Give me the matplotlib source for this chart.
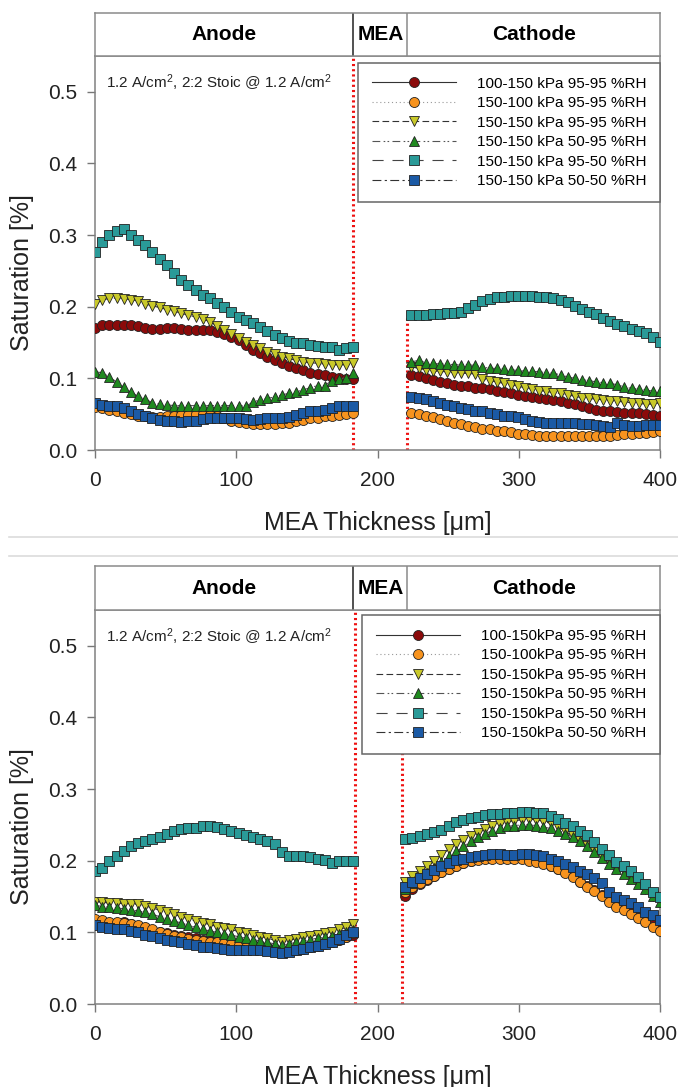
import numpy as np
import matplotlib
matplotlib.use("Agg")
import matplotlib.pyplot as plt

plt.rcParams['font.family'] = ['Liberation Sans', 'DejaVu Sans']
plt.rcParams['mathtext.fontset'] = 'custom'
plt.rcParams['mathtext.rm'] = 'Liberation Sans'
plt.rcParams['mathtext.default'] = 'regular'

# sampling positions (um)
x_anode = np.linspace(0, 183, 37)
x_cath_top = np.linspace(224, 400, 36)
x_cath_bot = np.linspace(219.5, 400, 36)

# ---- top panel, anode side
top_an_red = [0.171,0.174,0.175,0.175,0.175,0.175,0.173,0.171,0.169,0.169,0.170,0.170,0.169,0.168,0.168,0.168,0.167,0.165,0.162,0.158,0.153,0.146,0.140,0.135,0.130,0.125,0.121,0.117,0.114,0.111,0.108,0.106,0.104,0.102,0.100,0.099,0.099]
top_an_orange = [0.060,0.058,0.056,0.054,0.052,0.050,0.048,0.047,0.046,0.046,0.047,0.048,0.049,0.049,0.050,0.050,0.049,0.047,0.044,0.041,0.039,0.037,0.036,0.036,0.036,0.036,0.037,0.038,0.040,0.042,0.044,0.045,0.047,0.048,0.049,0.050,0.051]
top_an_yellow = [0.204,0.209,0.212,0.212,0.211,0.210,0.208,0.204,0.201,0.199,0.196,0.194,0.191,0.188,0.186,0.183,0.179,0.173,0.167,0.162,0.157,0.151,0.146,0.142,0.137,0.134,0.130,0.128,0.125,0.123,0.122,0.121,0.120,0.119,0.119,0.119,0.122]
top_an_green = [0.109,0.108,0.102,0.095,0.088,0.081,0.075,0.071,0.066,0.064,0.063,0.062,0.062,0.062,0.062,0.062,0.062,0.062,0.062,0.062,0.062,0.061,0.067,0.070,0.072,0.074,0.077,0.079,0.081,0.084,0.087,0.090,0.090,0.097,0.099,0.101,0.107]
top_an_teal = [0.277,0.290,0.300,0.306,0.308,0.300,0.293,0.286,0.277,0.267,0.258,0.247,0.238,0.230,0.223,0.216,0.212,0.205,0.200,0.193,0.186,0.181,0.177,0.172,0.166,0.160,0.156,0.152,0.150,0.149,0.146,0.145,0.144,0.144,0.140,0.143,0.144]
top_an_blue = [0.066,0.063,0.062,0.061,0.058,0.054,0.050,0.047,0.044,0.042,0.041,0.040,0.039,0.040,0.041,0.043,0.044,0.045,0.045,0.045,0.044,0.043,0.042,0.043,0.044,0.044,0.044,0.046,0.049,0.051,0.054,0.055,0.056,0.058,0.061,0.061,0.061]

# ---- top panel, cathode side
top_ca_red = [0.105,0.103,0.101,0.098,0.095,0.093,0.091,0.090,0.089,0.087,0.086,0.085,0.083,0.081,0.079,0.077,0.075,0.074,0.072,0.071,0.070,0.068,0.066,0.064,0.061,0.058,0.056,0.055,0.054,0.053,0.052,0.051,0.051,0.050,0.049,0.047]
top_ca_orange = [0.052,0.050,0.048,0.046,0.043,0.040,0.038,0.036,0.034,0.032,0.030,0.029,0.027,0.026,0.025,0.023,0.022,0.021,0.020,0.020,0.019,0.019,0.019,0.019,0.019,0.019,0.019,0.019,0.020,0.021,0.022,0.023,0.024,0.024,0.025,0.026]
top_ca_yellow = [0.116,0.114,0.112,0.110,0.110,0.109,0.108,0.107,0.107,0.106,0.099,0.097,0.095,0.093,0.091,0.089,0.087,0.085,0.083,0.082,0.080,0.079,0.077,0.075,0.073,0.072,0.071,0.070,0.069,0.068,0.067,0.066,0.065,0.064,0.064,0.066]
top_ca_green = [0.123,0.125,0.122,0.121,0.120,0.120,0.119,0.119,0.119,0.118,0.116,0.114,0.114,0.113,0.112,0.111,0.110,0.110,0.109,0.108,0.107,0.105,0.102,0.100,0.098,0.097,0.095,0.094,0.093,0.091,0.088,0.086,0.085,0.084,0.082,0.082]
top_ca_teal = [0.188,0.189,0.189,0.190,0.190,0.191,0.191,0.192,0.198,0.203,0.208,0.211,0.213,0.214,0.215,0.215,0.215,0.215,0.214,0.213,0.212,0.210,0.206,0.201,0.197,0.193,0.190,0.184,0.180,0.176,0.173,0.169,0.166,0.163,0.158,0.151]
top_ca_blue = [0.074,0.073,0.071,0.069,0.066,0.063,0.061,0.058,0.057,0.055,0.054,0.052,0.050,0.048,0.047,0.046,0.043,0.040,0.039,0.038,0.038,0.037,0.037,0.037,0.036,0.036,0.035,0.033,0.032,0.037,0.035,0.033,0.034,0.035,0.035,0.035]

# ---- bottom panel, anode side
bot_an_red = [0.116,0.113,0.112,0.113,0.114,0.112,0.109,0.106,0.103,0.101,0.099,0.097,0.095,0.093,0.092,0.090,0.088,0.087,0.086,0.085,0.084,0.083,0.082,0.081,0.080,0.077,0.074,0.074,0.075,0.077,0.079,0.081,0.084,0.087,0.090,0.093,0.096]
bot_an_orange = [0.119,0.117,0.115,0.114,0.113,0.112,0.110,0.108,0.105,0.101,0.098,0.095,0.093,0.091,0.089,0.088,0.087,0.086,0.085,0.084,0.082,0.080,0.079,0.078,0.077,0.075,0.073,0.074,0.076,0.078,0.080,0.082,0.085,0.087,0.090,0.094,0.099]
bot_an_yellow = [0.143,0.142,0.141,0.141,0.140,0.140,0.139,0.137,0.134,0.131,0.128,0.125,0.122,0.119,0.116,0.113,0.111,0.108,0.106,0.104,0.101,0.099,0.097,0.094,0.092,0.089,0.086,0.089,0.091,0.093,0.095,0.096,0.099,0.101,0.104,0.107,0.111]
bot_an_green = [0.138,0.136,0.135,0.134,0.133,0.131,0.130,0.128,0.125,0.122,0.119,0.116,0.113,0.110,0.107,0.104,0.102,0.100,0.098,0.096,0.094,0.092,0.090,0.088,0.086,0.084,0.082,0.084,0.086,0.088,0.090,0.092,0.093,0.095,0.098,0.100,0.103]
bot_an_teal = [0.185,0.190,0.200,0.207,0.214,0.220,0.225,0.228,0.231,0.233,0.238,0.241,0.244,0.245,0.246,0.248,0.249,0.247,0.244,0.242,0.239,0.236,0.233,0.230,0.228,0.224,0.212,0.207,0.206,0.206,0.205,0.203,0.201,0.197,0.199,0.199,0.199]
bot_an_blue = [0.110,0.108,0.106,0.105,0.104,0.102,0.100,0.097,0.095,0.092,0.090,0.088,0.086,0.084,0.082,0.080,0.079,0.078,0.077,0.076,0.076,0.076,0.076,0.075,0.074,0.072,0.071,0.073,0.075,0.077,0.079,0.081,0.084,0.087,0.091,0.096,0.101]

# ---- bottom panel, cathode side
bot_ca_red = [0.151,0.160,0.167,0.173,0.179,0.184,0.189,0.193,0.197,0.200,0.202,0.204,0.205,0.206,0.206,0.206,0.205,0.203,0.200,0.197,0.193,0.189,0.184,0.178,0.171,0.165,0.159,0.152,0.145,0.138,0.133,0.128,0.122,0.116,0.110,0.105]
bot_ca_orange = [0.157,0.163,0.169,0.174,0.179,0.184,0.189,0.193,0.197,0.199,0.201,0.203,0.203,0.203,0.203,0.203,0.202,0.200,0.198,0.195,0.192,0.188,0.183,0.177,0.170,0.164,0.158,0.151,0.143,0.136,0.131,0.126,0.120,0.114,0.108,0.102]
bot_ca_yellow = [0.170,0.178,0.186,0.193,0.200,0.208,0.216,0.223,0.229,0.235,0.239,0.244,0.248,0.251,0.254,0.256,0.257,0.258,0.257,0.255,0.252,0.247,0.241,0.234,0.228,0.221,0.214,0.207,0.200,0.193,0.186,0.178,0.170,0.161,0.151,0.144]
bot_ca_green = [0.160,0.169,0.176,0.183,0.190,0.198,0.206,0.213,0.220,0.227,0.233,0.238,0.242,0.245,0.248,0.249,0.250,0.250,0.249,0.247,0.245,0.242,0.238,0.233,0.227,0.220,0.212,0.204,0.196,0.189,0.182,0.175,0.168,0.160,0.151,0.143]
bot_ca_teal = [0.230,0.232,0.234,0.237,0.240,0.243,0.248,0.254,0.257,0.259,0.261,0.264,0.265,0.265,0.266,0.267,0.268,0.268,0.267,0.266,0.263,0.258,0.253,0.248,0.242,0.236,0.226,0.217,0.208,0.198,0.192,0.186,0.177,0.167,0.157,0.149]
bot_ca_blue = [0.164,0.170,0.176,0.182,0.187,0.192,0.197,0.201,0.203,0.205,0.207,0.208,0.209,0.209,0.208,0.208,0.209,0.209,0.208,0.206,0.203,0.200,0.196,0.191,0.186,0.181,0.176,0.169,0.157,0.149,0.145,0.141,0.135,0.129,0.124,0.117]

labels_top = ['100-150 kPa 95-95 %RH', '150-100 kPa 95-95 %RH', '150-150 kPa 95-95 %RH',
              '150-150 kPa 50-95 %RH', '150-150 kPa 95-50 %RH', '150-150 kPa 50-50 %RH']
labels_bot = ['100-150kPa 95-95 %RH', '150-100kPa 95-95 %RH', '150-150kPa 95-95 %RH',
              '150-150kPa 50-95 %RH', '150-150kPa 95-50 %RH', '150-150kPa 50-50 %RH']

colors = ['#8b0a0a', '#f7931e', '#c9c92a', '#1f8a1f', '#2a9a98', '#1b5aa5']
markers = ['o', 'o', 'v', '^', 's', 's']
sizes = [7.2, 7.2, 7.8, 7.8, 7.0, 7.0]
styles = ['-', (0, (1, 2.5)), (0, (6, 3)), (0, (7, 3, 1.5, 2, 1.5, 3)), (0, (10, 8)), (0, (8, 3, 2, 3))]
line_cols = ['#333333', '#999999', '#333333', '#555555', '#444444', '#333333']

W, H = 678, 1087
fig = plt.figure(figsize=(W / 100, H / 100), dpi=100)


def fx(px):
    return px / W


def fy(py):
    return 1 - py / H


def panel(ax_top, ax_bot, hdr_top, anode, cath, x_cath, labels, red_lines, leg_box):
    ax = fig.add_axes([fx(95), fy(ax_bot), fx(660) - fx(95), (ax_bot - ax_top) / H])
    for i in range(6):
        xs = np.concatenate([x_anode, [np.nan], x_cath])
        ys = np.concatenate([anode[i], [np.nan], cath[i]])
        ax.plot(xs, ys, linestyle=styles[i], color=line_cols[i], lw=0.8,
                marker=markers[i], ms=sizes[i], mfc=colors[i], mec='#222222', mew=0.6,
                label=labels[i], zorder=3 + i)
    ax.axvline(red_lines[0], color='#ee1111', lw=2.2, ls=(0, (0.7, 1.0)), zorder=2)
    ax.axvline(red_lines[1], ymax=red_lines[2], color='#ee1111', lw=2.2, ls=(0, (0.7, 1.0)), zorder=2)
    ax.set_xlim(0, 400)
    ax.set_ylim(0, 0.55)
    ax.set_xticks([0, 100, 200, 300, 400])
    ax.set_yticks([0.0, 0.1, 0.2, 0.3, 0.4, 0.5])
    ax.set_yticklabels(['0.0', '0.1', '0.2', '0.3', '0.4', '0.5'])
    ax.tick_params(direction='out', length=6, width=1, color='#777777', labelsize=15, labelcolor='#222222')
    ax.tick_params(axis='x', pad=9)
    ax.tick_params(axis='y', pad=7)
    for s in ax.spines.values():
        s.set_color('#808080')
        s.set_linewidth(1.1)
    ax.set_xlabel('MEA Thickness [\u03bcm]', fontsize=18, color='#222222')
    ax.set_ylabel('Saturation [%]', fontsize=18, color='#222222')
    ax.xaxis.label.set_va('center')
    ax.yaxis.label.set_va('center')
    ax.xaxis.set_label_coords(0.5, -0.185)
    ax.yaxis.set_label_coords(-0.129, 0.45)
    ax.text(0.02, 0.933, '1.2 A/cm$^{2}$, 2:2 Stoic @ 1.2 A/cm$^{2}$', transform=ax.transAxes,
            fontsize=11, va='center', ha='left', color='#222222')
    leg = ax.legend(loc='upper left', bbox_to_anchor=leg_box, mode='expand', borderaxespad=0,
                    fontsize=11, numpoints=1, handlelength=5.5, handletextpad=1.4,
                    labelspacing=0.36, borderpad=0.9, fancybox=False, framealpha=1,
                    edgecolor='#666666')
    leg.get_frame().set_linewidth(1.1)
    leg.set_zorder(20)

    hd = fig.add_axes([fx(95), fy(ax_top), fx(660) - fx(95), (ax_top - hdr_top) / H])
    hd.set_xlim(0, 400)
    hd.set_ylim(0, 1)
    hd.set_xticks([])
    hd.set_yticks([])
    for s in hd.spines.values():
        s.set_color('#8a8a8a')
        s.set_linewidth(1.1)
    hd.axvline(183, color='#222222', lw=1.1)
    hd.axvline(221, color='#8a8a8a', lw=1.1)
    hd.text(91.5, 0.5, 'Anode', fontsize=15, fontweight='bold', ha='center', va='center')
    hd.text(202, 0.5, 'MEA', fontsize=15, fontweight='bold', ha='center', va='center')
    hd.text(310.5, 0.5, 'Cathode', fontsize=15, fontweight='bold', ha='center', va='center')


top_anode = [top_an_red, top_an_orange, top_an_yellow, top_an_green, top_an_teal, top_an_blue]
top_cath = [top_ca_red, top_ca_orange, top_ca_yellow, top_ca_green, top_ca_teal, top_ca_blue]
bot_anode = [bot_an_red, bot_an_orange, bot_an_yellow, bot_an_green, bot_an_teal, bot_an_blue]
bot_cath = [bot_ca_red, bot_ca_orange, bot_ca_yellow, bot_ca_green, bot_ca_teal, bot_ca_blue]

panel(56, 450, 13, top_anode, top_cath, x_cath_top, labels_top, [183, 221, 0.335],
      (0.4655, 0.64, 0.5345, 0.342))
panel(610, 1004, 566, bot_anode, bot_cath, x_cath_bot, labels_bot, [184, 217, 0.65],
      (0.4726, 0.645, 0.5274, 0.342))

# separator lines between the two images
for py in (537, 556):
    fig.add_artist(plt.Line2D([0.013, 1.0], [fy(py), fy(py)], color='#dcdcdc', lw=1.2))

fig.savefig('out.png', dpi=100)
